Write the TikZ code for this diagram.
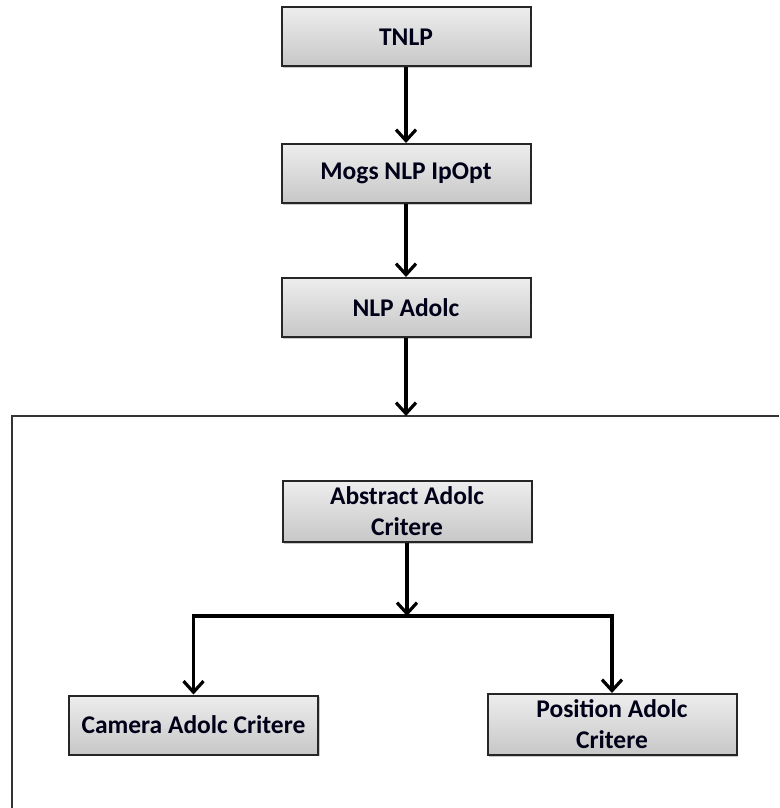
\documentclass[tikz,border=0pt]{standalone}
\usepackage{fontspec}
\setmainfont{Carlito}
\usetikzlibrary{arrows.meta,shadows,positioning}
\tikzset{
  blockbox/.style={
    draw=black!85, line width=2pt,
    top color=black!7, bottom color=black!22,
    drop shadow={shadow xshift=1.5pt, shadow yshift=-1.5pt, opacity=0.35, fill=black!60},
    minimum width=249pt, minimum height=59pt, inner sep=0pt,
    align=center, text=black!90!blue,
    font=\bfseries\fontsize{25.5pt}{31pt}\selectfont
  },
  flow/.style={line width=3.2pt, draw=black,
    -{Straight Barb[length=11pt, width=20pt, line width=3.2pt]}},
  joint/.style={line width=3.5pt, draw=black, line cap=rect},
  frameline/.style={line width=2.2pt, draw=black!80}
}
\begin{document}
\begin{tikzpicture}[x=1pt, y=-1pt]
  \useasboundingbox (0,0) rectangle (779,808);

  % outer frame (open towards the right and bottom)
  \draw[frameline] (12,808) -- (12,416) -- (779,416);
  \coordinate (frametop) at (406,416);

  % main chain
  \node[blockbox] (tnlp) at (406,37)    {TNLP};
  \node[blockbox] (mogs) at (406,173.5) {Mogs NLP IpOpt};
  \node[blockbox] (nlp)  at (406,307.5) {NLP Adolc};

  % inside the frame
  \node[blockbox, minimum height=61pt] (abs) at (407,511.5) {Abstract Adolc\\Critere};
  \node[blockbox] (cam) at (193.5,725) {Camera Adolc Critere};
  \node[blockbox, minimum height=61pt] (pos) at (612,724.5) {Position Adolc\\Critere};

  \coordinate (jmid)   at (abs.south |- 0,616);
  \coordinate (jleft)  at (cam.north |- 0,616);
  \coordinate (jright) at (pos.north |- 0,616);

  % connectors
  \draw[flow] (tnlp.south) -- (mogs.north);
  \draw[flow] (mogs.south) -- (nlp.north);
  \draw[flow] (nlp.south) -- (frametop);
  \draw[joint] (jleft) -- (jright);
  \draw[flow] (abs.south) -- (jmid);
  \draw[flow] (jleft) -- (cam.north);
  \draw[flow] (jright) -- (pos.north);
\end{tikzpicture}
\end{document}
